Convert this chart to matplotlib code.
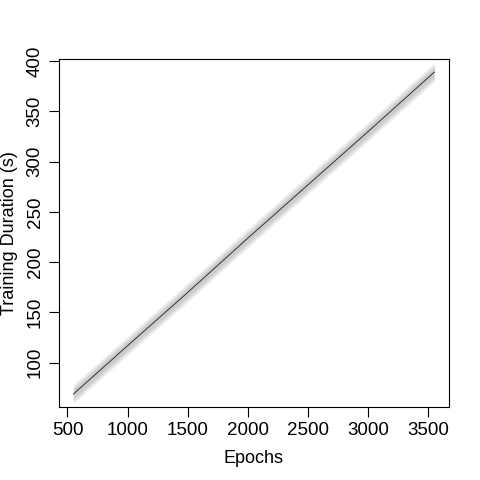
import matplotlib.pyplot as plt

plt.rcParams['font.family'] = ['Liberation Sans', 'DejaVu Sans']

# fitted line
epochs = [550, 1000, 1500, 2000, 2500, 3000, 3550]
duration = [69, 117, 170, 224, 277, 330, 389]
# grey band around the line
band_low = [59, 107, 160, 214, 267, 320, 379]
band_high = [79, 127, 180, 234, 287, 340, 399]

x_ticks = [500, 1000, 1500, 2000, 2500, 3000, 3500]
y_ticks = [100, 150, 200, 250, 300, 350, 400]

fig = plt.figure(figsize=(4.8, 4.8), dpi=100)
ax = fig.add_axes([0.123, 0.152, 0.812, 0.725])

# soft band: stacked translucent layers to look blurred
for k, a in zip([1.0, 0.85, 0.7, 0.55, 0.4], [0.06, 0.08, 0.09, 0.09, 0.08]):
    lo = [d - (d - l) * k for d, l in zip(duration, band_low)]
    hi = [d + (h - d) * k for d, h in zip(duration, band_high)]
    ax.fill_between(epochs, lo, hi, color='#707070', alpha=a, linewidth=0)

ax.plot(epochs, duration, color='#333333', linewidth=0.7)

ax.set_xlim(430, 3670)
ax.set_ylim(56, 402)
ax.set_xticks(x_ticks)
ax.set_yticks(y_ticks)
ax.set_yticklabels([str(v) for v in y_ticks], rotation=90, va='center')
ax.tick_params(direction='out', length=7, width=0.8, labelsize=13.5, colors='black', pad=4)
for s in ax.spines.values():
    s.set_linewidth(0.8)
    s.set_color('black')

ax.set_xlabel('Epochs', fontsize=13, labelpad=8)
ax.set_ylabel('Training Duration (s)', fontsize=13, labelpad=6)

fig.savefig('out.png', dpi=100)
